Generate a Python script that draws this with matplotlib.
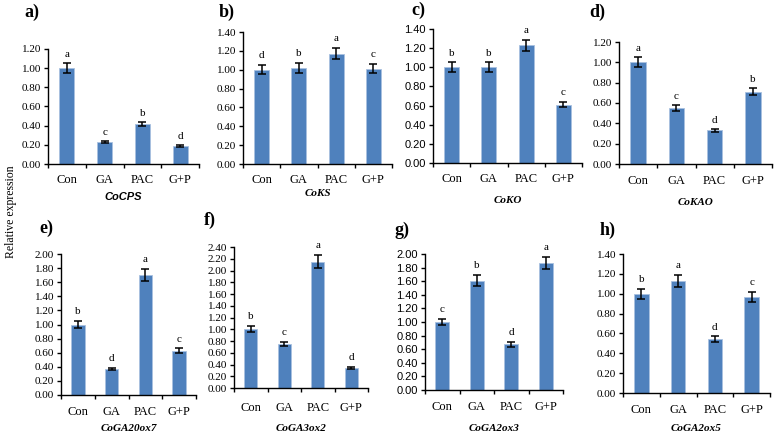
import matplotlib.pyplot as plt
import numpy as np

W, H = 778, 436

treatments = ["Con", "GA", "PAC", "G+P"]
panel_letters = ["a)", "b)", "c)", "d)", "e)", "f)", "g)", "h)"]
genes = ["CoCPS", "CoKS", "CoKO", "CoKAO", "CoGA20ox7", "CoGA3ox2", "CoGA2ox3", "CoGA2ox5"]

means_cps = [1.00, 0.23, 0.42, 0.19]
means_ks = [1.00, 1.02, 1.17, 1.01]
means_ko = [1.00, 1.00, 1.23, 0.61]
means_kao = [1.00, 0.55, 0.33, 0.71]
means_ga20ox7 = [1.00, 0.37, 1.70, 0.63]
means_ga3ox2 = [1.00, 0.75, 2.15, 0.34]
means_ga2ox3 = [1.00, 1.61, 0.67, 1.87]
means_ga2ox5 = [1.00, 1.13, 0.54, 0.97]

err_cps = [0.05, 0.012, 0.022, 0.012]
err_ks = [0.05, 0.05, 0.06, 0.05]
err_ko = [0.05, 0.05, 0.06, 0.03]
err_kao = [0.05, 0.028, 0.016, 0.035]
err_ga20ox7 = [0.05, 0.02, 0.09, 0.03]
err_ga3ox2 = [0.05, 0.04, 0.11, 0.02]
err_ga2ox3 = [0.05, 0.08, 0.035, 0.09]
err_ga2ox5 = [0.05, 0.06, 0.03, 0.05]

letters_cps = ["a", "c", "b", "d"]
letters_ks = ["d", "b", "a", "c"]
letters_ko = ["b", "b", "a", "c"]
letters_kao = ["a", "c", "d", "b"]
letters_ga20ox7 = ["b", "d", "a", "c"]
letters_ga3ox2 = ["b", "c", "a", "d"]
letters_ga2ox3 = ["c", "b", "d", "a"]
letters_ga2ox5 = ["b", "a", "d", "c"]

ymax = [1.2, 1.4, 1.4, 1.2, 2.0, 2.4, 2.0, 1.4]

all_means = [means_cps, means_ks, means_ko, means_kao,
             means_ga20ox7, means_ga3ox2, means_ga2ox3, means_ga2ox5]
all_errs = [err_cps, err_ks, err_ko, err_kao,
            err_ga20ox7, err_ga3ox2, err_ga2ox3, err_ga2ox5]
all_letters = [letters_cps, letters_ks, letters_ko, letters_kao,
               letters_ga20ox7, letters_ga3ox2, letters_ga2ox3, letters_ga2ox5]

# axes boxes in pixels: left, right, top, bottom
boxes = [
    (48, 199, 49, 164), (243, 392, 32, 164), (433, 582, 29, 163), (619, 772, 42, 164),
    (61, 196, 254, 395), (234, 368, 247, 388), (425, 563, 254, 390), (623, 770, 254, 393),
]
letter_pos = [(32, 12), (227, 12), (418, 10), (597, 12), (46, 228), (210, 220), (402, 230), (608, 230)]
gene_y = [197, 193, 200, 202, 428, 428, 428, 428]
cat_pad = [7, 7, 7, 8, 8, 10, 8, 8]
sans_ticks = [False, False, True, False, False, False, True, False]

SERIF = "Liberation Serif"
SANS = "Liberation Sans"
BAR = "#4F81BD"

fig = plt.figure(figsize=(W / 100, H / 100), dpi=100)

for i in range(8):
    l, r, t, b = boxes[i]
    ax = fig.add_axes([l / W, 1 - b / H, (r - l) / W, (b - t) / H])
    x = np.arange(len(treatments))
    ax.bar(x, all_means[i], width=0.4, color=BAR, edgecolor="#a9c1e0", linewidth=0.6, zorder=2)
    ax.errorbar(x, all_means[i], yerr=all_errs[i], fmt="none", ecolor="black",
                elinewidth=1.1, capsize=3, capthick=1.1, zorder=3)
    off = ymax[i] * 0.035
    for xi, m, e, lt in zip(x, all_means[i], all_errs[i], all_letters[i]):
        ax.text(xi, m + e + off, lt, ha="center", va="bottom", fontsize=8, family=SERIF)

    ax.set_xlim(-0.5, 3.5)
    ax.set_ylim(0, ymax[i])
    ax.set_yticks(np.arange(0, ymax[i] + 0.001, 0.2))
    tick_font = SANS if sans_ticks[i] else SERIF
    ax.set_yticklabels([f"{v:.2f}" for v in np.arange(0, ymax[i] + 0.001, 0.2)],
                       family=tick_font, fontsize=8)
    ax.set_xticks(x)
    ax.set_xticklabels(treatments, family=SERIF, fontsize=9)
    ax.set_xticks(np.arange(-0.5, 4.0, 1.0), minor=True)
    ax.tick_params(axis="x", which="major", length=0, pad=cat_pad[i])
    ax.tick_params(axis="x", which="minor", length=3, direction="out", width=1)
    ax.tick_params(axis="y", length=3, direction="out", width=1, pad=2)
    for s in ["top", "right"]:
        ax.spines[s].set_visible(False)
    ax.spines["left"].set_linewidth(1.0)
    ax.spines["bottom"].set_linewidth(1.0)

    cx = (l + r) / 2
    gene_font = SANS if i == 0 else SERIF
    fig.text(cx / W, 1 - gene_y[i] / H, genes[i], ha="center", va="center",
             fontsize=8, fontweight="bold", fontstyle="italic", family=gene_font)
    lx, ly = letter_pos[i]
    fig.text(lx / W, 1 - ly / H, panel_letters[i], ha="center", va="center",
             fontsize=13, fontweight="bold", family=SERIF)

fig.text(11 / W, 1 - 212 / H, "Relative expression", rotation=90, ha="center", va="center",
         fontsize=8.5, family=SERIF)

fig.savefig("out.png", dpi=100)
